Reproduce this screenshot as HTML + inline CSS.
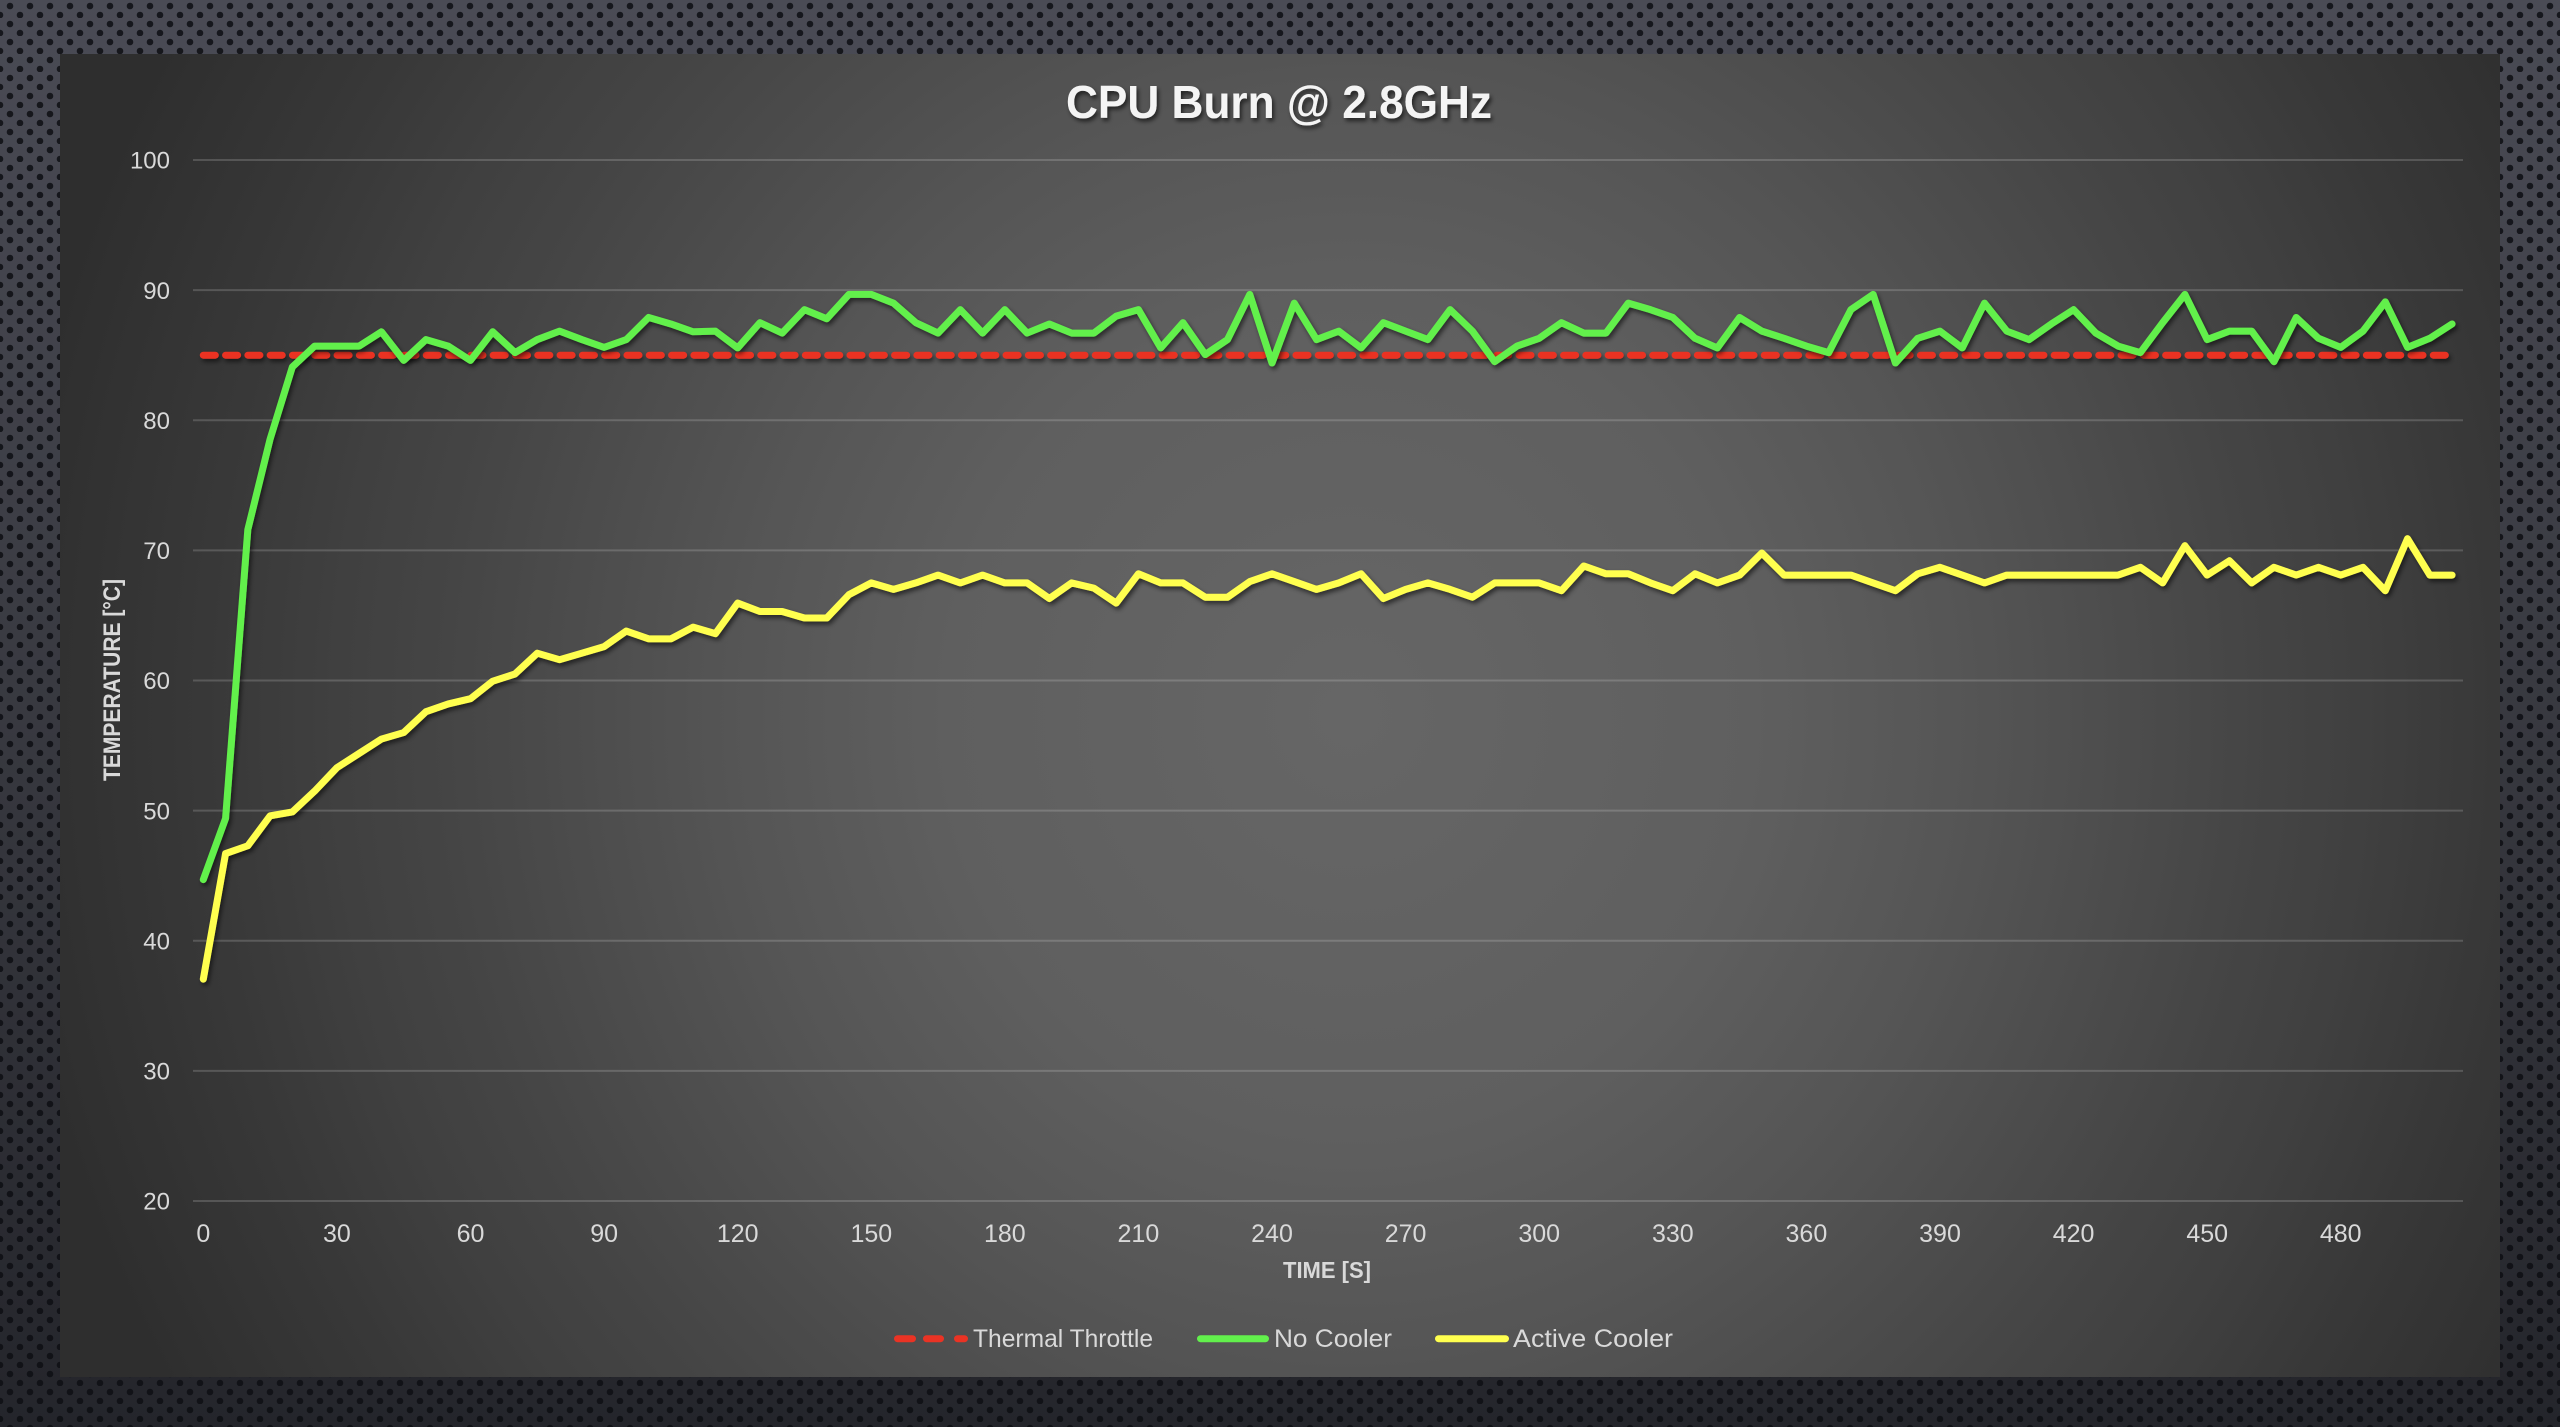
<!DOCTYPE html>
<html>
<head>
<meta charset="utf-8">
<style>
  html,body{margin:0;padding:0;background:#2b2c32;}
  body{width:2560px;height:1427px;overflow:hidden;}
  svg{display:block;}
  text{font-family:"Liberation Sans", sans-serif;}
</style>
</head>
<body>
<svg width="2560" height="1427" viewBox="0 0 2560 1427" xmlns="http://www.w3.org/2000/svg">
  <defs>
    <linearGradient id="bgg" x1="0" y1="0" x2="0" y2="1">
      <stop offset="0" stop-color="#4a4b55"/>
      <stop offset="0.5" stop-color="#383940"/>
      <stop offset="1" stop-color="#24252b"/>
    </linearGradient>
    <pattern id="dots" width="20" height="18" patternUnits="userSpaceOnUse">
      <circle cx="10" cy="6" r="3.3" fill="#0d0e13" fill-opacity="0.85"/>
      <circle cx="0" cy="15" r="3.3" fill="#0d0e13" fill-opacity="0.85"/>
      <circle cx="20" cy="15" r="3.3" fill="#0d0e13" fill-opacity="0.85"/>
    </pattern>
    <radialGradient id="pg" gradientUnits="userSpaceOnUse" cx="0" cy="0" r="1"
        gradientTransform="translate(1350 715) scale(1350 1400)">
      <stop offset="0" stop-color="#666666"/>
      <stop offset="0.3" stop-color="#5f5f5f"/>
      <stop offset="0.46" stop-color="#555555"/>
      <stop offset="0.67" stop-color="#454545"/>
      <stop offset="0.75" stop-color="#404040"/>
      <stop offset="0.85" stop-color="#383838"/>
      <stop offset="1" stop-color="#2e2e2e"/>
    </radialGradient>
    <filter id="sh" filterUnits="userSpaceOnUse" x="0" y="0" width="2560" height="1427">
      <feDropShadow dx="2" dy="3" stdDeviation="2.5" flood-color="#000" flood-opacity="0.55"/>
    </filter>
    <filter id="tsh" filterUnits="userSpaceOnUse" x="0" y="0" width="2560" height="1427">
      <feDropShadow dx="2" dy="3" stdDeviation="2" flood-color="#000" flood-opacity="0.6"/>
    </filter>
  </defs>

  <!-- outer perforated background -->
  <rect x="0" y="0" width="2560" height="1427" fill="url(#bgg)"/>
  <rect x="0" y="0" width="2560" height="1427" fill="url(#dots)"/>

  <!-- panel -->
  <rect x="60" y="54" width="2440" height="1323" fill="url(#pg)"/>

  <!-- gridlines -->
  <g stroke="#ffffff" stroke-opacity="0.17" stroke-width="2">
    <line x1="193" y1="160" x2="2463" y2="160"/>
    <line x1="193" y1="290.1" x2="2463" y2="290.1"/>
    <line x1="193" y1="420.25" x2="2463" y2="420.25"/>
    <line x1="193" y1="550.4" x2="2463" y2="550.4"/>
    <line x1="193" y1="680.5" x2="2463" y2="680.5"/>
    <line x1="193" y1="810.6" x2="2463" y2="810.6"/>
    <line x1="193" y1="940.75" x2="2463" y2="940.75"/>
    <line x1="193" y1="1070.9" x2="2463" y2="1070.9"/>
    <line x1="193" y1="1201" x2="2463" y2="1201"/>
  </g>

  <!-- y tick labels -->
  <g fill="#d9d9d9" font-size="24" text-anchor="end">
    <text x="170" y="168.7">100</text>
    <text x="170" y="298.8">90</text>
    <text x="170" y="428.9">80</text>
    <text x="170" y="559.1">70</text>
    <text x="170" y="689.2">60</text>
    <text x="170" y="819.3">50</text>
    <text x="170" y="949.4">40</text>
    <text x="170" y="1079.6">30</text>
    <text x="170" y="1209.7">20</text>
  </g>

  <!-- x tick labels -->
  <g fill="#d9d9d9" font-size="25" text-anchor="middle">
    <text x="203.3" y="1242">0</text>
    <text x="336.9" y="1242">30</text>
    <text x="470.5" y="1242">60</text>
    <text x="604.1" y="1242">90</text>
    <text x="737.7" y="1242">120</text>
    <text x="871.3" y="1242">150</text>
    <text x="1004.8" y="1242">180</text>
    <text x="1138.4" y="1242">210</text>
    <text x="1272.0" y="1242">240</text>
    <text x="1405.6" y="1242">270</text>
    <text x="1539.2" y="1242">300</text>
    <text x="1672.8" y="1242">330</text>
    <text x="1806.4" y="1242">360</text>
    <text x="1940.0" y="1242">390</text>
    <text x="2073.6" y="1242">420</text>
    <text x="2207.2" y="1242">450</text>
    <text x="2340.7" y="1242">480</text>
  </g>

  <!-- axis titles -->
  <text x="1327" y="1278" fill="#d9d9d9" font-size="23" font-weight="bold" text-anchor="middle" textLength="88" lengthAdjust="spacingAndGlyphs">TIME [S]</text>
  <text transform="translate(120 680) rotate(-90)" x="0" y="0" fill="#d9d9d9" font-size="24" font-weight="bold" text-anchor="middle" textLength="202" lengthAdjust="spacingAndGlyphs">TEMPERATURE [°C]</text>

  <!-- title -->
  <g filter="url(#tsh)">
    <text x="1066" y="118" fill="#f4f4f4" font-size="46" font-weight="bold" textLength="426" lengthAdjust="spacingAndGlyphs">CPU Burn @ 2.8GHz</text>
  </g>

  <!-- series -->
  <g filter="url(#sh)">
    <line x1="203.3" y1="355.2" x2="2450" y2="355.2" stroke="#ea3324" stroke-width="7" stroke-linecap="round" stroke-dasharray="12 10.3"/>
  </g>
  <g filter="url(#sh)">
    <polyline transform="matrix(22.265 0 0 -13.0125 203.3 1461.25)" vector-effect="non-scaling-stroke"
      fill="none" stroke="#ffff4f" stroke-width="7" stroke-linejoin="round" stroke-linecap="round"
      points="0,37.05 1,46.7 2,47.3 3,49.6 4,49.9 5,51.5 6,53.3 7,54.4 8,55.5 9,56.0 10,57.6 11,58.2 12,58.6 13,59.95 14,60.5 15,62.1 16,61.6 17,62.1 18,62.6 19,63.8 20,63.2 21,63.2 22,64.1 23,63.6 24,65.95 25,65.3 26,65.3 27,64.8 28,64.8 29,66.6 30,67.5 31,67.0 32,67.5 33,68.1 34,67.5 35,68.1 36,67.5 37,67.5 38,66.3 39,67.5 40,67.1 41,65.95 42,68.2 43,67.5 44,67.5 45,66.4 46,66.4 47,67.6 48,68.2 49,67.6 50,67.0 51,67.5 52,68.2 53,66.3 54,67.0 55,67.5 56,67.0 57,66.4 58,67.5 59,67.5 60,67.5 61,66.9 62,68.8 63,68.2 64,68.2 65,67.5 66,66.9 67,68.2 68,67.5 69,68.1 70,69.8 71,68.1 72,68.1 73,68.1 74,68.1 75,67.5 76,66.9 77,68.2 78,68.7 79,68.1 80,67.5 81,68.1 82,68.1 83,68.1 84,68.1 85,68.1 86,68.1 87,68.7 88,67.5 89,70.36 90,68.1 91,69.2 92,67.5 93,68.7 94,68.1 95,68.7 96,68.1 97,68.7 98,66.9 99,70.9 100,68.1 101,68.1"/>
    <polyline transform="matrix(22.265 0 0 -13.0125 203.3 1461.25)" vector-effect="non-scaling-stroke"
      fill="none" stroke="#62f04c" stroke-width="7" stroke-linejoin="round" stroke-linecap="round"
      points="0,44.7 1,49.4 2,71.6 3,78.55 4,84.1 5,85.7 6,85.7 7,85.7 8,86.8 9,84.6 10,86.2 11,85.7 12,84.6 13,86.8 14,85.2 15,86.2 16,86.85 17,86.2 18,85.6 19,86.2 20,87.9 21,87.4 22,86.8 23,86.85 24,85.56 25,87.5 26,86.7 27,88.5 28,87.8 29,89.67 30,89.67 31,89.0 32,87.5 33,86.7 34,88.5 35,86.7 36,88.5 37,86.7 38,87.4 39,86.7 40,86.7 41,88.0 42,88.5 43,85.56 44,87.5 45,85.05 46,86.2 47,89.67 48,84.4 49,89.0 50,86.2 51,86.85 52,85.56 53,87.5 54,86.85 55,86.2 56,88.5 57,86.85 58,84.5 59,85.7 60,86.3 61,87.5 62,86.7 63,86.7 64,89.0 65,88.5 66,87.9 67,86.3 68,85.56 69,87.9 70,86.85 71,86.3 72,85.7 73,85.2 74,88.5 75,89.67 76,84.4 77,86.3 78,86.85 79,85.56 80,89.0 81,86.85 82,86.2 83,87.4 84,88.5 85,86.7 86,85.7 87,85.2 88,87.5 89,89.67 90,86.2 91,86.85 92,86.85 93,84.5 94,87.9 95,86.3 96,85.6 97,86.85 98,89.1 99,85.6 100,86.3 101,87.4"/>
  </g>

  <!-- legend -->
  <g stroke-width="7" stroke-linecap="round">
    <line x1="897.5" y1="1338.7" x2="912.5" y2="1338.7" stroke="#ea3324"/>
    <line x1="926.5" y1="1338.7" x2="940.5" y2="1338.7" stroke="#ea3324"/>
    <line x1="957.5" y1="1338.7" x2="964.5" y2="1338.7" stroke="#ea3324"/>
    <line x1="1200.5" y1="1338.7" x2="1265.5" y2="1338.7" stroke="#62f04c"/>
    <line x1="1438.5" y1="1338.7" x2="1505.5" y2="1338.7" stroke="#ffff4f"/>
  </g>
  <g fill="#d9d9d9" font-size="25">
    <text x="973" y="1347" textLength="180" lengthAdjust="spacingAndGlyphs">Thermal Throttle</text>
    <text x="1274" y="1347" textLength="118" lengthAdjust="spacingAndGlyphs">No Cooler</text>
    <text x="1513" y="1347" textLength="160" lengthAdjust="spacingAndGlyphs">Active Cooler</text>
  </g>
</svg>
</body>
</html>
